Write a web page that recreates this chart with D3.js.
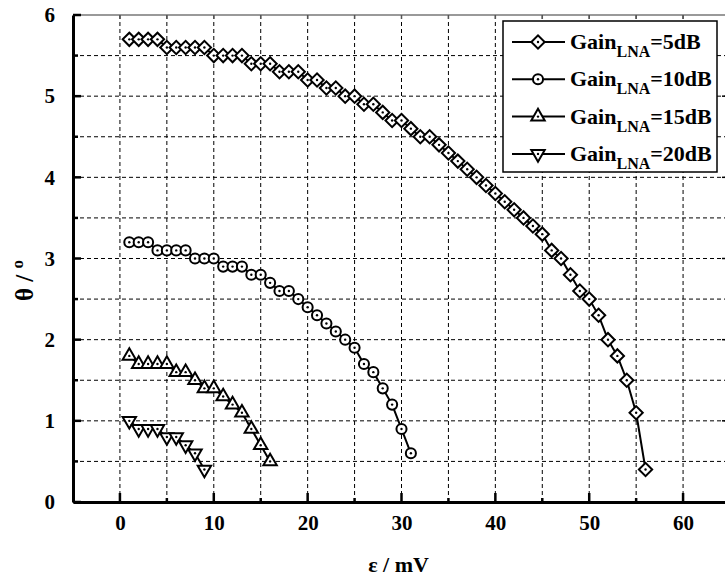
<!DOCTYPE html>
<html>
<head>
<meta charset="utf-8">
<script src="https://cdn.jsdelivr.net/npm/d3@7"></script>
<style>
  html, body { margin: 0; padding: 0; background: #fff; }
  svg { display: block; }
  text { font-family: "Liberation Serif", "Times New Roman", serif; font-weight: bold; fill: #000; }
</style>
</head>
<body>
<div id="chart"></div>
<script>
// data (x in mV, y in degrees)
const seriesNames = ['5dB', '10dB', '15dB', '20dB'];
const symbols = ['diamond', 'circle', 'triangle', 'triangleDown'];

const x5dB = d3.range(1, 57);
const y5dB = [5.7, 5.7, 5.7, 5.7, 5.6, 5.6, 5.6, 5.6, 5.6, 5.5,
  5.5, 5.5, 5.5, 5.4, 5.4, 5.4, 5.3, 5.3, 5.3, 5.2,
  5.2, 5.1, 5.1, 5.0, 5.0, 4.9, 4.9, 4.8, 4.7, 4.7,
  4.6, 4.5, 4.5, 4.4, 4.3, 4.2, 4.1, 4.0, 3.9, 3.8,
  3.7, 3.6, 3.5, 3.4, 3.3, 3.1, 3.0, 2.8, 2.6, 2.5,
  2.3, 2.0, 1.8, 1.5, 1.1, 0.4];

const x10dB = d3.range(1, 32);
const y10dB = [3.2, 3.2, 3.2, 3.1, 3.1, 3.1, 3.1, 3.0, 3.0, 3.0,
  2.9, 2.9, 2.9, 2.8, 2.8, 2.7, 2.6, 2.6, 2.5, 2.4,
  2.3, 2.2, 2.1, 2.0, 1.9, 1.7, 1.6, 1.4, 1.2, 0.9,
  0.6];

const x15dB = d3.range(1, 17);
const y15dB = [1.8, 1.7, 1.7, 1.7, 1.7, 1.6, 1.6, 1.5, 1.4, 1.4,
  1.3, 1.2, 1.1, 0.9, 0.7, 0.5];

const x20dB = d3.range(1, 10);
const y20dB = [1.0, 0.9, 0.9, 0.9, 0.8, 0.8, 0.7, 0.6, 0.4];

const xTicks = [0, 10, 20, 30, 40, 50, 60];
const yTicks = [0, 1, 2, 3, 4, 5, 6];

const allX = [x5dB, x10dB, x15dB, x20dB];
const allY = [y5dB, y10dB, y15dB, y20dB];

let width = 725, height = 583;
let margin = { left: 73, right: -5, top: 15, bottom: 81 };

let svg = d3.select('#chart').append('svg')
  .attr('width', width)
  .attr('height', height);

let x = d3.scaleLinear().domain([-5, 65]).range([margin.left, width - margin.right]);
let y = d3.scaleLinear().domain([0, 6]).range([height - margin.bottom, margin.top]);

// grid lines
let grid = svg.append('g').attr('class', 'grid')
  .attr('stroke', '#000').attr('stroke-width', 1).attr('stroke-dasharray', '4,3');
grid.selectAll('line.vx')
  .data(d3.range(0, 66, 5))
  .enter().append('line')
  .attr('x1', d => x(d)).attr('x2', d => x(d))
  .attr('y1', y(0)).attr('y2', y(6));
grid.selectAll('line.hy')
  .data(d3.range(0.5, 6, 0.5))
  .enter().append('line')
  .attr('x1', x(-5)).attr('x2', x(65))
  .attr('y1', d => y(d)).attr('y2', d => y(d));

// top frame (grey, small ticks down)
svg.append('line')
  .attr('x1', x(-5)).attr('x2', x(65))
  .attr('y1', y(6)).attr('y2', y(6))
  .attr('stroke', '#777').attr('stroke-width', 1.5);
svg.selectAll('line.topTick')
  .data(d3.range(0, 66, 5))
  .enter().append('line')
  .attr('x1', d => x(d)).attr('x2', d => x(d))
  .attr('y1', y(6)).attr('y2', y(6) + 4)
  .attr('stroke', '#555').attr('stroke-width', 1.5);

// right frame (mostly off-screen)
svg.append('line')
  .attr('x1', x(65)).attr('x2', x(65))
  .attr('y1', y(0)).attr('y2', y(6))
  .attr('stroke', '#000').attr('stroke-width', 2);
svg.selectAll('line.rightTick')
  .data(d3.range(0.5, 6, 0.5))
  .enter().append('line')
  .attr('x1', x(65)).attr('x2', d => x(65) - (d % 1 === 0 ? 8 : 5))
  .attr('y1', d => y(d)).attr('y2', d => y(d))
  .attr('stroke', '#000').attr('stroke-width', 1.5);

// bottom axis
let xAxis = d3.axisBottom(x).tickValues(xTicks).tickSize(0).tickPadding(13).tickFormat(d3.format('d'));
let gx = svg.append('g')
  .attr('transform', `translate(0, ${y(0)})`)
  .call(xAxis);
gx.select('.domain').attr('stroke', '#000').attr('stroke-width', 3);
gx.selectAll('text').style('font-size', '21px');
svg.selectAll('line.xTick')
  .data(d3.range(0, 66, 5))
  .enter().append('line')
  .attr('x1', d => x(d)).attr('x2', d => x(d))
  .attr('y1', y(0)).attr('y2', d => y(0) - (d % 10 === 0 ? 9 : 4))
  .attr('stroke', '#000').attr('stroke-width', 2.5);

// left axis
let yAxis = d3.axisLeft(y).tickValues(yTicks).tickSize(0).tickPadding(18).tickFormat(d3.format('d'));
let gy = svg.append('g')
  .attr('transform', `translate(${x(-5)}, 0)`)
  .call(yAxis);
gy.select('.domain').attr('stroke', '#000').attr('stroke-width', 3);
gy.selectAll('text').style('font-size', '21px');
svg.selectAll('line.yTick')
  .data(d3.range(0, 6.01, 0.5))
  .enter().append('line')
  .attr('x1', x(-5)).attr('x2', d => x(-5) + (d % 1 === 0 ? 8 : 5))
  .attr('y1', d => y(d)).attr('y2', d => y(d))
  .attr('stroke', '#000').attr('stroke-width', 2.5);

// d3 axes set their own font-family; drop it so the css serif applies
gx.attr('font-family', null).attr('font-size', null);
gy.attr('font-family', null).attr('font-size', null);

// axis titles
svg.append('text')
  .attr('x', (x(-5) + x(65)) / 2 - 3)
  .attr('y', 572)
  .attr('text-anchor', 'middle')
  .style('font-size', '22px')
  .text('ε / mV');

let yTitle = svg.append('text')
  .attr('transform', `translate(33, ${(y(0) + y(6)) / 2 + 22}) rotate(-90)`)
  .attr('text-anchor', 'middle')
  .style('font-size', '25px');
yTitle.append('tspan').text('θ / ');
yTitle.append('tspan').attr('dy', -10).style('font-size', '17px').text('o');

// marker shapes
function markerPath(kind) {
  if (kind === 'diamond') return d3.symbol(d3.symbolSquare, 88)();
  if (kind === 'circle') return d3.symbol(d3.symbolCircle, 80)();
  return d3.symbol(d3.symbolTriangle, 78)();
}
function markerRotate(kind) {
  if (kind === 'diamond') return 45;
  if (kind === 'triangleDown') return 180;
  return 0;
}
function drawMarker(sel, kind) {
  sel.append('path')
    .attr('d', markerPath(kind))
    .attr('transform', `rotate(${markerRotate(kind)})`)
    .attr('fill', '#fff')
    .attr('stroke', '#000')
    .attr('stroke-width', 2);
  sel.append('circle').attr('r', 1.2).attr('fill', '#000');
}

// series
let line = d3.line().x(d => x(d[0])).y(d => y(d[1]));
allX.forEach((xs, i) => {
  let pts = xs.map((v, j) => [v, allY[i][j]]);
  let g = svg.append('g').attr('class', 'series-' + seriesNames[i]);
  g.append('path')
    .datum(pts)
    .attr('d', line)
    .attr('fill', 'none')
    .attr('stroke', '#000')
    .attr('stroke-width', 2);
  g.selectAll('g.mk')
    .data(pts)
    .enter().append('g')
    .attr('class', 'mk')
    .attr('transform', d => `translate(${x(d[0])}, ${y(d[1])})`)
    .each(function() {
      drawMarker(d3.select(this), symbols[i]);
    });
});

// legend
let legend = svg.append('g').attr('class', 'legend');
legend.append('rect')
  .attr('x', 503).attr('y', 21)
  .attr('width', 214).attr('height', 151)
  .attr('fill', '#fff')
  .attr('stroke', '#000')
  .attr('stroke-width', 1.5);
let rows = legend.selectAll('g.row')
  .data(seriesNames)
  .enter().append('g')
  .attr('class', 'row')
  .attr('transform', (d, i) => `translate(0, ${42 + i * 37.3})`);
rows.append('line')
  .attr('x1', 512).attr('x2', 565)
  .attr('stroke', '#000').attr('stroke-width', 2);
rows.append('g')
  .attr('transform', 'translate(538, 0)')
  .each(function(d, i) {
    drawMarker(d3.select(this), symbols[i]);
  });
let label = rows.append('text')
  .attr('x', 570)
  .attr('y', 7)
  .style('font-size', '22px');
label.append('tspan').text('Gain');
label.append('tspan').attr('dy', 8).style('font-size', '16px').text('LNA');
label.append('tspan').attr('dy', -8).text(d => '=' + d);
</script>
</body>
</html>
